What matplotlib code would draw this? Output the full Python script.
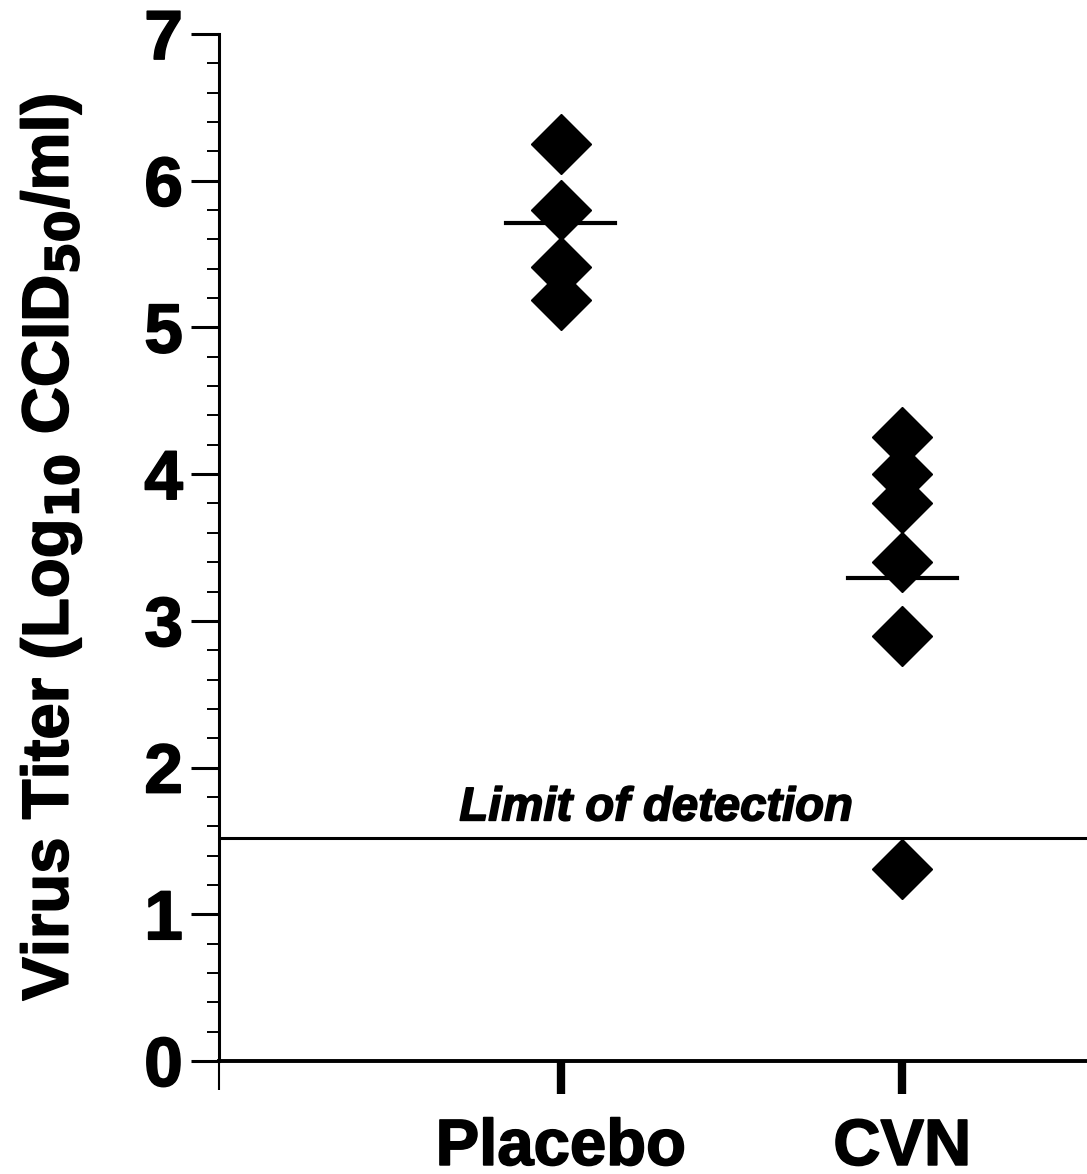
import matplotlib
matplotlib.use("Agg")
import matplotlib.pyplot as plt
import matplotlib.patheffects as pe

# values
groups = ["Placebo", "CVN"]
placebo_titer = [6.25, 5.80, 5.41, 5.19]
cvn_titer = [4.25, 4.00, 3.80, 3.40, 2.90, 1.31]
group_means = [5.71, 3.29]
detection_limit = 1.52
y_ticks = [0, 1, 2, 3, 4, 5, 6, 7]

plt.rcParams['font.family'] = ['Liberation Sans', 'DejaVu Sans']
plt.rcParams['mathtext.default'] = 'bf'
heavy = [pe.withStroke(linewidth=1.2, foreground='black')]

fig = plt.figure(figsize=(10.87, 11.74), dpi=100)
ax = fig.add_axes([0.2015, 0.0963, 0.7985, 0.8747])

# diamonds for each animal
ax.plot([1] * len(placebo_titer), placebo_titer, 'D', color='black', ms=30.5)
ax.plot([2] * len(cvn_titer), cvn_titer, 'D', color='black', ms=30.5)

# group mean bars
for i, m in enumerate(group_means):
    ax.plot([i + 1 - 0.16, i + 1 + 0.16], [m, m], color='black', lw=3)

# limit of detection
ax.axhline(detection_limit, color='black', lw=2.2)
ax.text(1.28, detection_limit + 0.12, 'Limit of detection', ha='center', va='baseline',
        fontsize=34, fontweight='bold', fontstyle='italic', path_effects=heavy)

ax.set_xlim(0, 869 / 342)
ax.set_ylim(0, 7)
ax.set_yticks(y_ticks)
ax.set_yticks([t / 5 for t in range(36)], minor=True)
ax.set_xticks([1, 2])
ax.set_xticklabels(groups)
ax.set_xticks([0], minor=True)

for side in ['top', 'right']:
    ax.spines[side].set_visible(False)
ax.spines['left'].set_linewidth(2.2)
ax.spines['bottom'].set_linewidth(2.8)

ax.tick_params(axis='y', which='major', length=20, width=2.2, labelsize=50, pad=6)
ax.tick_params(axis='y', which='minor', length=9, width=1.4)
ax.tick_params(axis='x', which='major', length=24, width=6, labelsize=47, pad=17)
ax.tick_params(axis='x', which='minor', length=21, width=1.5)
for lab in ax.get_xticklabels() + ax.get_yticklabels():
    lab.set_fontweight('bold')
    lab.set_path_effects(heavy)

ax.set_ylabel('Virus Titer (Log$_{10}$ CCID$_{50}$/ml)',
              fontsize=47, fontweight='bold', labelpad=44, path_effects=heavy)

fig.savefig('out.png', dpi=100)
